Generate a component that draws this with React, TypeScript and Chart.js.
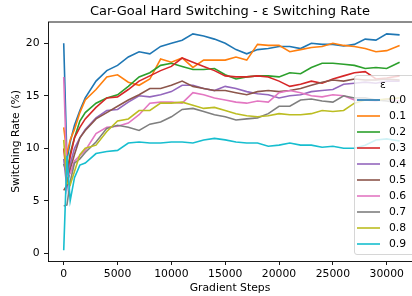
import React, { useEffect, useRef } from "react";
import { Chart, registerables } from "chart.js";

Chart.register(...registerables);

const TITLE = "Car-Goal Hard Switching - ε Switching Rate";
const X_LABEL = "Gradient Steps";
const Y_LABEL = "Switching Rate (%)";
const LEGEND_TITLE = "ε";

const steps = [0, 300, 600, 1000, 1500, 2000, 3000, 4000, 5000, 6000, 7000, 8000, 9000, 10000, 11000, 12000, 13000, 14000, 15000, 16000, 17000, 18000, 19000, 20000, 21000, 22000, 23000, 24000, 25000, 26000, 27000, 28000, 29000, 30000, 31200];

const xTicks = [0, 5000, 10000, 15000, 20000, 25000, 30000];
const yTicks = [0, 5, 10, 15, 20];

const epsLabels = ["0.0", "0.1", "0.2", "0.3", "0.4", "0.5", "0.6", "0.7", "0.8", "0.9"];
const colors = ["#1f77b4", "#ff7f0e", "#2ca02c", "#d62728", "#9467bd", "#8c564b", "#e377c2", "#7f7f7f", "#bcbd22", "#17becf"];

const eps00 = [20.0, 8.9, 10.6, 12.2, 13.6, 14.8, 16.4, 17.4, 17.9, 18.7, 19.2, 19.0, 19.7, 20.0, 20.3, 20.9, 20.7, 20.4, 20.0, 19.4, 19.0, 19.4, 19.5, 19.7, 19.7, 19.5, 20.0, 19.9, 19.9, 19.75, 19.9, 20.4, 20.3, 20.9, 20.8];
const eps01 = [12.0, 9.5, 10.8, 11.8, 13.4, 14.6, 15.6, 16.8, 17.0, 16.3, 16.0, 16.6, 18.5, 18.2, 18.6, 17.7, 18.4, 18.4, 18.4, 18.7, 18.4, 19.9, 19.8, 19.8, 19.2, 19.4, 19.6, 19.7, 20.0, 19.8, 19.7, 19.5, 19.2, 19.3, 19.8];
const eps02 = [8.5, 7.6, 9.5, 11.0, 12.6, 13.4, 14.3, 14.8, 15.1, 15.9, 16.8, 17.2, 17.9, 18.1, 17.8, 17.5, 17.5, 17.6, 17.0, 16.6, 16.8, 16.9, 16.9, 16.8, 17.2, 17.1, 17.7, 18.1, 18.1, 18.0, 17.9, 17.6, 17.7, 17.6, 18.2];
const eps03 = [10.0, 7.0, 9.2, 11.0, 12.0, 12.8, 13.9, 14.8, 14.9, 15.6, 16.4, 16.9, 17.4, 17.8, 18.6, 18.2, 17.8, 17.4, 16.9, 16.8, 16.8, 16.9, 16.8, 16.4, 15.9, 16.1, 16.4, 16.2, 16.6, 16.9, 17.2, 17.3, 16.6, 16.7, 16.9];
const eps04 = [9.0, 6.2, 8.5, 10.0, 11.0, 11.8, 12.9, 13.6, 13.7, 14.4, 15.0, 14.9, 15.1, 15.4, 16.0, 16.0, 15.7, 15.5, 15.9, 15.7, 15.4, 15.2, 15.1, 14.8, 15.0, 15.1, 15.4, 15.5, 15.6, 16.1, 16.2, 16.3, 16.2, 16.4, 16.4];
const eps05 = [6.0, 6.5, 8.0, 9.4, 11.0, 11.7, 12.8, 13.4, 14.0, 14.6, 15.1, 15.7, 15.7, 16.0, 16.4, 15.9, 15.7, 15.5, 15.5, 15.3, 15.1, 15.4, 15.5, 15.4, 15.5, 15.7, 16.0, 16.3, 16.5, 16.4, 16.6, 16.5, 16.5, 16.6, 16.5];
const eps06 = [16.8, 7.3, 7.6, 8.8, 9.3, 9.8, 11.4, 12.0, 12.1, 12.4, 13.2, 14.3, 14.4, 14.4, 14.3, 15.3, 15.1, 14.8, 14.6, 14.4, 14.3, 14.5, 14.4, 15.3, 15.5, 15.3, 15.0, 14.9, 15.1, 15.0, 14.6, 14.6, 14.5, 14.7, 14.5];
const eps07 = [4.5, 4.6, 6.8, 8.6, 9.0, 9.6, 10.6, 11.9, 12.2, 12.0, 11.7, 12.3, 12.5, 13.0, 13.7, 13.8, 13.5, 13.2, 13.0, 12.7, 12.8, 12.9, 13.3, 14.0, 14.0, 14.6, 14.7, 14.5, 14.4, 15.0, 14.8, 14.8, 14.6, 14.5, 14.3];
const eps08 = [10.8, 6.7, 6.5, 7.8, 9.4, 10.0, 10.3, 11.6, 12.6, 12.8, 13.6, 13.6, 14.3, 14.3, 14.4, 14.1, 13.8, 13.9, 13.6, 13.3, 13.1, 13.0, 13.1, 13.3, 13.2, 13.2, 13.3, 13.6, 13.5, 13.6, 14.3, 14.6, 14.6, 14.7, 14.8];
const eps09 = [0.3, 9.3, 5.0, 7.2, 8.4, 8.6, 9.5, 9.7, 9.8, 10.5, 10.6, 10.5, 10.5, 10.6, 10.6, 10.5, 10.8, 10.95, 10.8, 10.6, 10.5, 10.5, 10.2, 10.3, 10.5, 10.3, 10.3, 10.1, 10.2, 10.0, 10.0, 10.3, 10.8, 10.9, 10.7];

const FONT = "'DejaVu Sans', sans-serif";

export default function App() {
  const ref = useRef<HTMLCanvasElement>(null);

  useEffect(() => {
    const canvas = ref.current;
    if (!canvas) return;
    const series = [eps00, eps01, eps02, eps03, eps04, eps05, eps06, eps07, eps08, eps09];

    const datasets = series.map((vals, i) => ({
      label: epsLabels[i],
      data: vals.map((v, j) => ({ x: steps[j], y: v })),
      borderColor: colors[i],
      backgroundColor: colors[i],
      borderWidth: 1.6,
      pointRadius: 0,
      fill: false,
      tension: 0,
      order: series.length - 1 - i,
    }));

    const framePlugin = {
      id: "topFrame",
      afterDatasetsDraw(chart: any) {
        const { ctx, chartArea } = chart;
        ctx.save();
        ctx.strokeStyle = "#000";
        ctx.lineWidth = 0.9;
        ctx.beginPath();
        ctx.moveTo(chartArea.left, chartArea.top);
        ctx.lineTo(chartArea.right, chartArea.top);
        ctx.stroke();
        ctx.restore();
      },
    };

    const legendPlugin = {
      id: "insideLegend",
      afterDraw(chart: any) {
        const ctx = chart.ctx as CanvasRenderingContext2D;
        ctx.save();
        const bx = 354.5, by = 75.5, bw = 70, bh = 179, r = 2.5;
        ctx.beginPath();
        ctx.moveTo(bx + r, by);
        ctx.lineTo(bx + bw - r, by);
        ctx.arcTo(bx + bw, by, bx + bw, by + r, r);
        ctx.lineTo(bx + bw, by + bh - r);
        ctx.arcTo(bx + bw, by + bh, bx + bw - r, by + bh, r);
        ctx.lineTo(bx + r, by + bh);
        ctx.arcTo(bx, by + bh, bx, by + bh - r, r);
        ctx.lineTo(bx, by + r);
        ctx.arcTo(bx, by, bx + r, by, r);
        ctx.closePath();
        ctx.fillStyle = "rgba(255,255,255,0.8)";
        ctx.fill();
        ctx.strokeStyle = "rgba(204,204,204,0.8)";
        ctx.lineWidth = 1;
        ctx.stroke();

        ctx.font = `10.8px ${FONT}`;
        ctx.fillStyle = "#000";
        ctx.textBaseline = "middle";
        ctx.textAlign = "center";
        ctx.fillText(LEGEND_TITLE, 383, 85);
        ctx.textAlign = "left";
        for (let i = 0; i < epsLabels.length; i++) {
          const y = 100 + 16 * i;
          ctx.strokeStyle = colors[i];
          ctx.lineWidth = 1.6;
          ctx.beginPath();
          ctx.moveTo(357, y);
          ctx.lineTo(380, y);
          ctx.stroke();
          ctx.fillText(epsLabels[i], 389, y + 0.5);
        }
        ctx.restore();
      },
    };

    const chart = new Chart(canvas, {
      type: "line",
      data: { datasets },
      plugins: [framePlugin, legendPlugin],
      options: {
        animation: false,
        responsive: false,
        maintainAspectRatio: false,
        layout: { padding: 0 },
        plugins: {
          legend: { display: false },
          tooltip: { enabled: false },
          title: {
            display: true,
            text: TITLE,
            fullSize: false,
            color: "#000",
            font: { family: FONT, size: 13, weight: "normal" },
            padding: { top: 3.7, bottom: 2.7 },
          },
        },
        scales: {
          x: {
            type: "linear",
            min: -1460,
            max: 32350,
            afterFit(scale: any) {
              scale.height = 35;
            },
            afterBuildTicks(scale: any) {
              scale.ticks = xTicks.map((v) => ({ value: v }));
            },
            ticks: {
              color: "#000",
              font: { family: FONT, size: 10.8 },
              padding: 3,
              maxRotation: 0,
              autoSkip: false,
              callback: (v: any) => String(v),
            },
            grid: { drawOnChartArea: false, drawTicks: true, tickLength: 4, color: "#000", lineWidth: 0.9 },
            border: { display: true, color: "#000", width: 0.9 },
            title: {
              display: true,
              text: X_LABEL,
              color: "#000",
              font: { family: FONT, size: 10.8 },
              padding: { top: 0, bottom: 1.5 },
            },
          },
          y: {
            type: "linear",
            min: -0.733,
            max: 22.03,
            afterFit(scale: any) {
              scale.width = 48;
            },
            afterBuildTicks(scale: any) {
              scale.ticks = yTicks.map((v) => ({ value: v }));
            },
            ticks: {
              color: "#000",
              font: { family: FONT, size: 10.8 },
              padding: 4.5,
              autoSkip: false,
              callback: (v: any) => String(v),
            },
            grid: { drawOnChartArea: false, drawTicks: true, tickLength: 4, color: "#000", lineWidth: 0.9 },
            border: { display: true, color: "#000", width: 0.9 },
            title: {
              display: true,
              text: Y_LABEL,
              color: "#000",
              font: { family: FONT, size: 10.8 },
              padding: { top: 9.3, bottom: 0 },
            },
          },
        },
      },
    });

    return () => chart.destroy();
  }, []);

  return (
    <div style={{ position: "absolute", left: 0, top: 0, width: 412, height: 296, background: "#fff" }}>
      <canvas ref={ref} width={412} height={296} style={{ display: "block", width: 412, height: 296 }} />
    </div>
  );
}
